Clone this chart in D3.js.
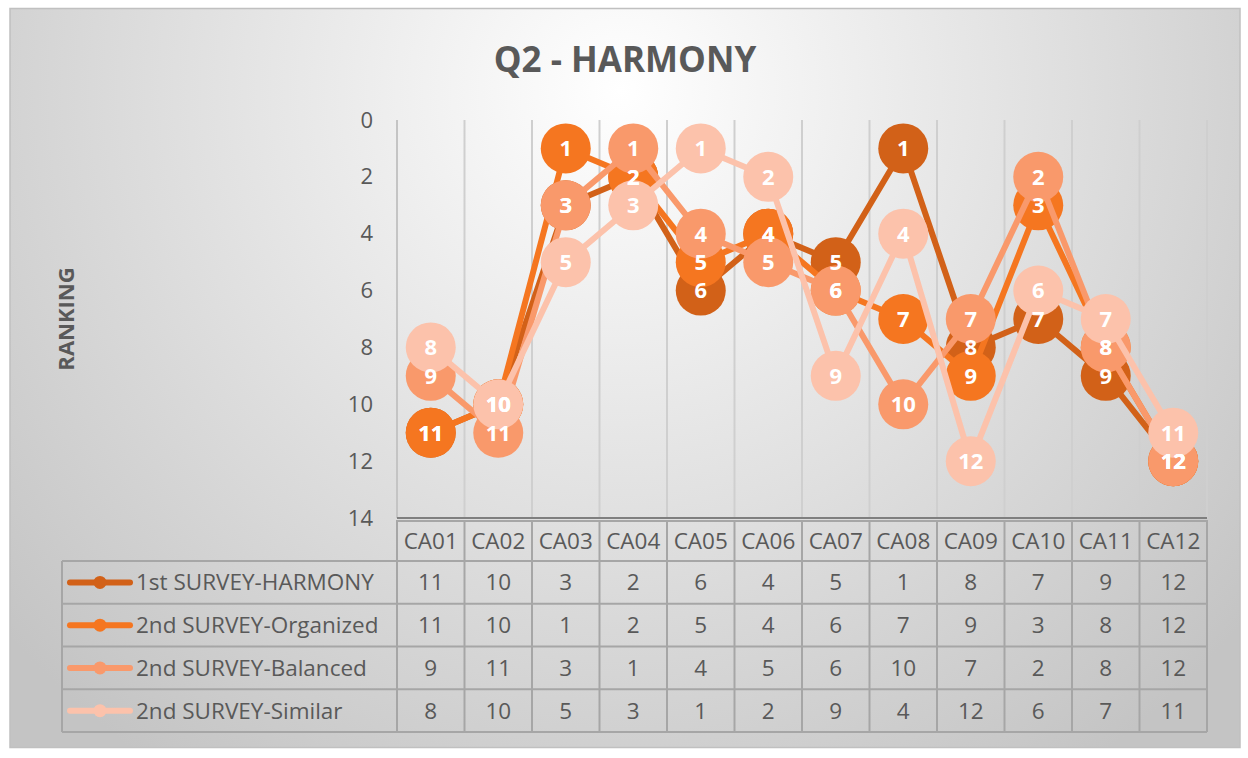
<!DOCTYPE html>
<html>
<head>
<meta charset="utf-8">
<script src="https://cdn.jsdelivr.net/npm/d3@7"></script>
<style>
  html, body { margin: 0; padding: 0; background: #fff; }
  svg { display: block; }
</style>
</head>
<body>
<div id="chart"></div>
<script>
// chart values
const categories = ["CA01", "CA02", "CA03", "CA04", "CA05", "CA06", "CA07", "CA08", "CA09", "CA10", "CA11", "CA12"];
const seriesNames = ["1st SURVEY-HARMONY", "2nd SURVEY-Organized", "2nd SURVEY-Balanced", "2nd SURVEY-Similar"];
const harmony1st = [11, 10, 3, 2, 6, 4, 5, 1, 8, 7, 9, 12];
const organized2nd = [11, 10, 1, 2, 5, 4, 6, 7, 9, 3, 8, 12];
const balanced2nd = [9, 11, 3, 1, 4, 5, 6, 10, 7, 2, 8, 12];
const similar2nd = [8, 10, 5, 3, 1, 2, 9, 4, 12, 6, 7, 11];
const yTicks = [0, 2, 4, 6, 8, 10, 12, 14];
const seriesColors = ["#D26118", "#F57620", "#F9996B", "#FCC2AB"];

const allSeries = [harmony1st, organized2nd, balanced2nd, similar2nd].map((values, i) => ({
  name: seriesNames[i],
  color: seriesColors[i],
  values: values.map((v, j) => ({ cat: categories[j], value: v })),
}));

const width = 1248;
const height = 758;
const plot = { left: 397, right: 1207, top: 120, bottom: 518 };
const table = { left: 62, headerTop: 520, rowTop: 561, rowH: 42.75 };
const textGrey = "#595959";
const fontFamily = "'Open Sans', 'Noto Sans', sans-serif";
const tableFont = "22.5px";

const svg = d3
  .select("#chart")
  .append("svg")
  .attr("width", width)
  .attr("height", height);

// background
const defs = svg.append("defs");
const grad = defs
  .append("radialGradient")
  .attr("id", "bg")
  .attr("gradientUnits", "userSpaceOnUse")
  .attr("cx", 620)
  .attr("cy", 90)
  .attr("r", 820);
grad.append("stop").attr("offset", "0%").attr("stop-color", "#FFFFFF");
grad.append("stop").attr("offset", "100%").attr("stop-color", "#C4C4C4");

svg
  .append("rect")
  .attr("x", 10)
  .attr("y", 8.5)
  .attr("width", 1230)
  .attr("height", 739)
  .attr("fill", "url(#bg)")
  .attr("stroke", "#C0C0C0")
  .attr("stroke-width", 1.5);

const xScale = d3
  .scaleBand()
  .domain(categories)
  .range([plot.left, plot.right]);

const yScale = d3
  .scaleLinear()
  .domain([0, 14])
  .range([plot.top, plot.bottom]);

// vertical gridlines at category boundaries
const gridGroup = svg.append("g");
categories.forEach((c) => {
  gridGroup
    .append("line")
    .attr("x1", xScale(c) + xScale.bandwidth())
    .attr("x2", xScale(c) + xScale.bandwidth())
    .attr("y1", plot.top)
    .attr("y2", plot.bottom)
    .attr("stroke", "#CFCFCF")
    .attr("stroke-width", 2);
});
gridGroup
  .append("line")
  .attr("x1", plot.left)
  .attr("x2", plot.left)
  .attr("y1", plot.top)
  .attr("y2", plot.bottom)
  .attr("stroke", "#C4C4C4")
  .attr("stroke-width", 2);

// y axis
const yAxis = svg
  .append("g")
  .attr("transform", `translate(${plot.left - 24},0)`)
  .call(d3.axisLeft(yScale).tickValues(yTicks).tickSize(0).tickPadding(0));
yAxis.select(".domain").remove();
yAxis
  .selectAll("text")
  .attr("fill", textGrey)
  .attr("font-size", "22px")
  .style("font-family", fontFamily);

svg
  .append("text")
  .attr("transform", "translate(74, 319) rotate(-90)")
  .attr("text-anchor", "middle")
  .attr("fill", textGrey)
  .attr("font-size", "22px")
  .attr("font-weight", "bold")
  .style("font-family", fontFamily)
  .text("RANKING");

// title
svg
  .append("text")
  .attr("x", 625)
  .attr("y", 72)
  .attr("text-anchor", "middle")
  .attr("fill", textGrey)
  .attr("font-size", "35px")
  .attr("font-weight", "bold")
  .style("font-family", fontFamily)
  .text("Q2 - HARMONY");

// lines and markers
const line = d3
  .line()
  .x((d) => xScale(d.cat) + xScale.bandwidth() / 2)
  .y((d) => yScale(d.value));

allSeries.forEach((s) => {
  const g = svg.append("g");
  g.append("path")
    .datum(s.values)
    .attr("d", line)
    .attr("fill", "none")
    .attr("stroke", s.color)
    .attr("stroke-width", 6)
    .attr("stroke-linejoin", "round");
  g.selectAll("circle")
    .data(s.values)
    .enter()
    .append("circle")
    .attr("cx", (d) => xScale(d.cat) + xScale.bandwidth() / 2)
    .attr("cy", (d) => yScale(d.value))
    .attr("r", 25)
    .attr("fill", s.color);
});

// data labels on top of all series
allSeries.forEach((s) => {
  svg
    .append("g")
    .selectAll("text")
    .data(s.values)
    .enter()
    .append("text")
    .attr("x", (d) => xScale(d.cat) + xScale.bandwidth() / 2)
    .attr("y", (d) => yScale(d.value))
    .attr("dy", "0.36em")
    .attr("text-anchor", "middle")
    .attr("fill", "white")
    .attr("font-size", "22px")
    .attr("font-weight", "bold")
    .style("font-family", fontFamily)
    .text((d) => d.value);
});

// plot bottom border
svg
  .append("line")
  .attr("x1", plot.left)
  .attr("x2", plot.right)
  .attr("y1", plot.bottom)
  .attr("y2", plot.bottom)
  .attr("stroke", "#7F7F7F")
  .attr("stroke-width", 2);

// data table
const tableGroup = svg.append("g");
const tableStroke = "#A6A6A6";
const tableBottom = table.rowTop + table.rowH * allSeries.length;

// header row
categories.forEach((c) => {
  tableGroup
    .append("text")
    .attr("x", xScale(c) + xScale.bandwidth() / 2)
    .attr("y", (table.headerTop + table.rowTop) / 2)
    .attr("dy", "0.36em")
    .attr("text-anchor", "middle")
    .attr("fill", textGrey)
    .attr("font-size", tableFont)
    .style("font-family", fontFamily)
    .text(c);
});

// horizontal rules
tableGroup
  .append("line")
  .attr("x1", plot.left)
  .attr("x2", plot.right)
  .attr("y1", table.headerTop + 1)
  .attr("y2", table.headerTop + 1)
  .attr("stroke", tableStroke)
  .attr("stroke-width", 2);
d3.range(allSeries.length + 1).forEach((i) => {
  const y = table.rowTop + i * table.rowH;
  tableGroup
    .append("line")
    .attr("x1", table.left)
    .attr("x2", plot.right)
    .attr("y1", y)
    .attr("y2", y)
    .attr("stroke", tableStroke)
    .attr("stroke-width", 2);
});

// vertical rules
tableGroup
  .append("line")
  .attr("x1", table.left)
  .attr("x2", table.left)
  .attr("y1", table.rowTop)
  .attr("y2", tableBottom)
  .attr("stroke", tableStroke)
  .attr("stroke-width", 2);
[plot.left, ...categories.map((c) => xScale(c) + xScale.bandwidth())].forEach((x) => {
  tableGroup
    .append("line")
    .attr("x1", x)
    .attr("x2", x)
    .attr("y1", table.headerTop)
    .attr("y2", tableBottom)
    .attr("stroke", tableStroke)
    .attr("stroke-width", 2);
});

// rows: legend key + values
allSeries.forEach((s, i) => {
  const cy = table.rowTop + i * table.rowH + table.rowH / 2;
  tableGroup
    .append("line")
    .attr("x1", 70)
    .attr("x2", 130)
    .attr("y1", cy)
    .attr("y2", cy)
    .attr("stroke", s.color)
    .attr("stroke-width", 6)
    .attr("stroke-linecap", "round");
  tableGroup
    .append("circle")
    .attr("cx", 100)
    .attr("cy", cy)
    .attr("r", 6.5)
    .attr("fill", s.color);
  tableGroup
    .append("text")
    .attr("x", 136)
    .attr("y", cy)
    .attr("dy", "0.36em")
    .attr("fill", textGrey)
    .attr("font-size", tableFont)
    .style("font-family", fontFamily)
    .text(s.name);
  s.values.forEach((d) => {
    tableGroup
      .append("text")
      .attr("x", xScale(d.cat) + xScale.bandwidth() / 2)
      .attr("y", cy)
      .attr("dy", "0.36em")
      .attr("text-anchor", "middle")
      .attr("fill", textGrey)
      .attr("font-size", tableFont)
      .style("font-family", fontFamily)
      .text(d.value);
  });
});
</script>
</body>
</html>
